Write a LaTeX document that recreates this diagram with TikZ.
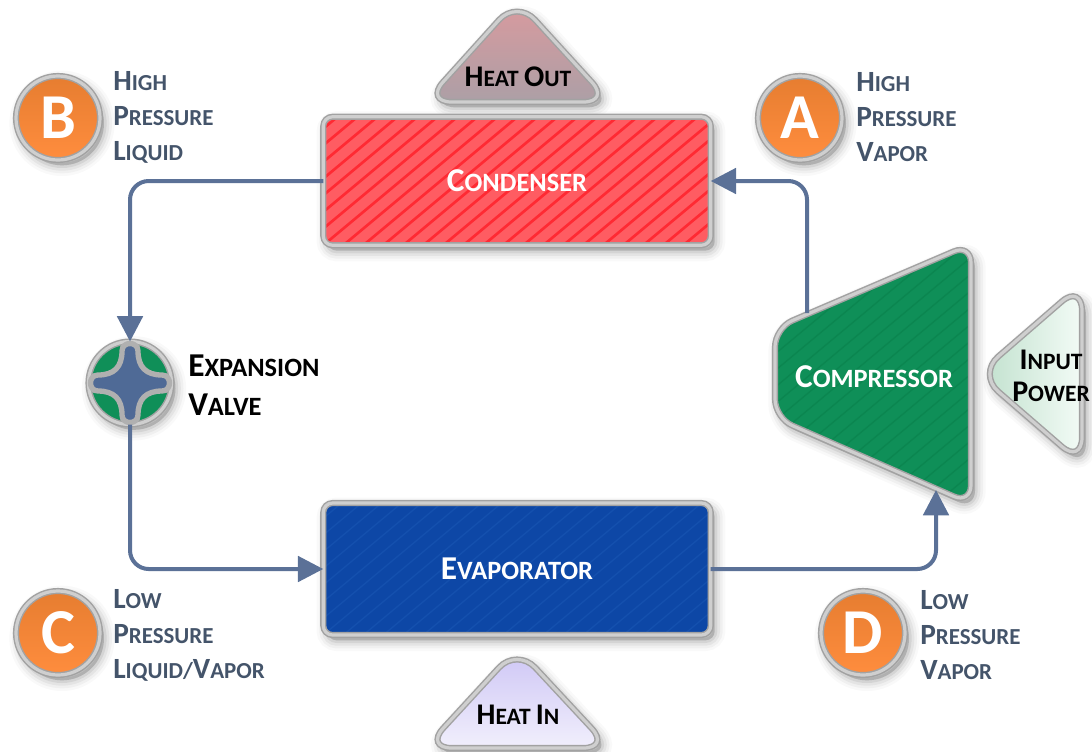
\documentclass[tikz,border=0pt]{standalone}
\usepackage{fontspec}
\setmainfont{Carlito}
\usepackage{tikz}
\usetikzlibrary{arrows.meta,shadows}
\definecolor{flowblue}{HTML}{5B7197}
\definecolor{labelslate}{HTML}{44546A}
\definecolor{rimdark}{HTML}{A2A2A2}
\definecolor{rimlight}{HTML}{CFCFCF}
\definecolor{valveblue}{HTML}{4F6A96}
\definecolor{valvegreen}{HTML}{0F8F58}
\definecolor{hotfill}{HTML}{FF5C62}
\definecolor{hotstripe}{HTML}{FF2A33}
\definecolor{coldfill}{HTML}{0D47A6}
\definecolor{coldstripe}{HTML}{1450AE}
\definecolor{compstripe}{HTML}{0B8650}
\definecolor{badgetop}{HTML}{E67D30}
\definecolor{badgebottom}{HTML}{FF8D3E}
\definecolor{heatouttop}{HTML}{DA9A9E}
\definecolor{heatoutbottom}{HTML}{AC9FA6}
\definecolor{heatintop}{HTML}{CDC5F5}
\definecolor{heatinbottom}{HTML}{F1EFFC}
\definecolor{powerleft}{HTML}{BFE0CC}
\definecolor{powerright}{HTML}{F3FBF6}
\newcommand{\capsc}[2]{{\fontsize{\capsize}{\capskip}\selectfont #1}#2}
\newcommand{\labelfont}[3]{\bfseries\def\capsize{#2}\def\capskip{#3}\fontsize{#1}{#3}\selectfont}
\tikzset{
	rim/.style={draw=rimdark, line width=1.1pt, double=rimlight, double distance=2.4pt, outer sep=0pt},
	softshade/.style={
		general shadow={shadow xshift=3pt, shadow yshift=-4pt, fill=black, draw=black, line width=16pt, opacity=0.025},
		general shadow={shadow xshift=3pt, shadow yshift=-4pt, fill=black, draw=black, line width=12pt, opacity=0.035},
		general shadow={shadow xshift=3pt, shadow yshift=-4pt, fill=black, draw=black, line width=8pt, opacity=0.05},
		general shadow={shadow xshift=3pt, shadow yshift=-4pt, fill=black, draw=black, line width=4pt, opacity=0.07}},
	stripes/.style n args={2}{path picture={\foreach \s in {-300,-280,...,600} \draw[#1, line width=#2] ([xshift=\s*0.75pt]path picture bounding box.south west) -- ++(300,-250);}},
	flow/.style={draw=flowblue, line width=3pt, rounded corners=14pt, -{Triangle[length=19pt, width=19pt]}},
	badge/.style={circle, rim, softshade, minimum size=63pt, inner sep=0pt, top color=badgetop, bottom color=badgebottom, font=\bfseries\fontsize{48}{48}\selectfont, text=white},
	tag/.style={anchor=west, align=left, inner sep=0pt, text=labelslate, font=\labelfont{17.2}{22}{26.25}},
	devlabel/.style={text=#1, align=left, inner sep=0pt, font=\labelfont{19.8}{25}{29}},
	ventlabel/.style={text=black, align=center, inner sep=0pt, font=\labelfont{17.6}{22.5}{24}},
}
\begin{document}
\begin{tikzpicture}[x=0.75pt, y=-0.75pt]
	\useasboundingbox (0, 0) rectangle (1092, 751);
	\draw[rim, softshade, rounded corners=20pt, top color=heatouttop, bottom color=heatoutbottom] (517, 0) -- (610, 102) -- (425, 102) -- cycle;
	\draw[rim, softshade, rounded corners=20pt, top color=heatintop, bottom color=heatinbottom] (517, 648) -- (610, 748) -- (425, 748) -- cycle;
	\draw[rim, softshade, rounded corners=20pt, left color=powerleft, right color=powerright] (978, 374) -- (1082, 284) -- (1082, 464) -- cycle;
	\node[rim, softshade, rounded corners=7pt, minimum width=290.6pt, minimum height=96.4pt, fill=hotfill, stripes={hotstripe}{2pt}] (condenser) at (517, 181) {};
	\node[rim, softshade, rounded corners=7pt, minimum width=290.6pt, minimum height=99pt, fill=coldfill, stripes={coldstripe}{1pt}] (evaporator) at (517, 569) {};
	\draw[rim, softshade, rounded corners=14pt, fill=valvegreen, stripes={compstripe}{1pt}] (775, 328) -- (971, 244) -- (971, 504) -- (775, 418) -- cycle;
	\node[circle, rim, softshade, minimum size=83*0.75pt, inner sep=0pt, fill=valvegreen] (valve) at (130, 383) {};
	\begin{scope}[shift={(130, 383)}]
		\draw[draw=rimdark!85!white, line width=4pt, fill=valveblue] (8, -32) .. controls (8, -16) and (16, -8) .. (32, -8) .. controls (42, -8) and (42, 8) .. (32, 8) .. controls (16, 8) and (8, 16) .. (8, 32) .. controls (8, 42) and (-8, 42) .. (-8, 32) .. controls (-8, 16) and (-16, 8) .. (-32, 8) .. controls (-42, 8) and (-42, -8) .. (-32, -8) .. controls (-16, -8) and (-8, -16) .. (-8, -32) .. controls (-8, -42) and (8, -42) .. (8, -32) -- cycle;
	\end{scope}
	\coordinate (compressor in) at (936, 490);
	\coordinate (compressor out) at (807, 313);
	\node[devlabel=white] (compressor) at (874, 377) {\capsc{C}{OMPRESSOR}};
	\node[devlabel=white] (condenser text) at (condenser.center) {\capsc{C}{ONDENSER}};
	\node[devlabel=white] (evaporator text) at (evaporator.center) {\capsc{E}{VAPORATOR}};
	\node[ventlabel] (heat out) at (518, 77) {\capsc{H}{EAT} \capsc{O}{UT}};
	\node[ventlabel] (heat in) at (518, 715) {\capsc{H}{EAT} \capsc{I}{N}};
	\node[ventlabel] (input power) at (1051, 376) {\capsc{I}{NPUT}\\\capsc{P}{OWER}};
	\node[devlabel=black, anchor=west] (valve text) at (188, 385) {\capsc{E}{XPANSION}\\\capsc{V}{ALVE}};
	\node[badge] (badge a) at (800, 118) {A};
	\node[badge] (badge b) at (58, 118) {B};
	\node[badge] (badge c) at (58, 633) {C};
	\node[badge] (badge d) at (863, 633) {D};
	\node[tag] (tag a) at (856, 117) {\capsc{H}{IGH}\\\capsc{P}{RESSURE}\\\capsc{V}{APOR}};
	\node[tag] (tag b) at (113, 117) {\capsc{H}{IGH}\\\capsc{P}{RESSURE}\\\capsc{L}{IQUID}};
	\node[tag] (tag c) at (113, 635) {\capsc{L}{OW}\\\capsc{P}{RESSURE}\\\capsc{L}{IQUID/}\capsc{V}{APOR}};
	\node[tag] (tag d) at (920, 635) {\capsc{L}{OW}\\\capsc{P}{RESSURE}\\\capsc{V}{APOR}};
	\draw[flow] (condenser.west) -| (valve.north);
	\draw[flow] (valve.south) |- (evaporator.west);
	\draw[flow] (evaporator.east) -| (compressor in);
	\draw[flow] (compressor out) |- (condenser.east);
\end{tikzpicture}
\end{document}
